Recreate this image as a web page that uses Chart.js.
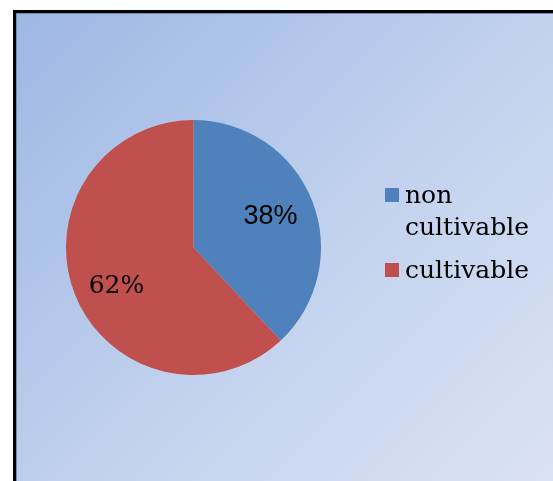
<!DOCTYPE html>
<html lang="en">
<head>
  <meta charset="UTF-8" />
  <title>Cultivable land</title>
  <script src="https://cdn.jsdelivr.net/npm/chart.js@4.4.1/dist/chart.umd.min.js"></script>
  <style>
    body {
      margin: 0;
      background: #fff;
      overflow: hidden;
    }

    .frame {
      position: absolute;
      left: 13px;
      top: 10px;
      width: 600px;
      height: 520px;
      border: 3px solid #000;
      background: linear-gradient(135deg, #9db7e4 0%, #c3d2ee 50%, #e0e7f6 100%);
    }

    .frame canvas {
      position: absolute;
      left: 0;
      top: 0;
      box-shadow: inset 1px 1px 0 #7a8aa8;
    }
  </style>
</head>
<body>
  <div class="frame">
    <canvas id="pie" width="537" height="468"></canvas>
  </div>
  <script>
    const categories = ['non cultivable', 'cultivable'];
    const shares = [38, 62];
    const sliceColors = ['#4f81bd', '#c0504d'];

    // percentage text inside each slice
    const sliceLabels = {
      id: 'sliceLabels',
      afterDatasetsDraw(chart, args, opts) {
        const ctx = chart.ctx;
        const meta = chart.getDatasetMeta(0);
        const total = shares.reduce((a, b) => a + b, 0);
        meta.data.forEach((arc, i) => {
          const mid = (arc.startAngle + arc.endAngle) / 2;
          const r = arc.outerRadius * opts.offset;
          const x = arc.x + Math.cos(mid) * r;
          const y = arc.y + Math.sin(mid) * r + opts.shiftY[i];
          ctx.save();
          ctx.font = opts.fonts[i];
          ctx.fillStyle = '#000';
          ctx.textAlign = 'center';
          ctx.textBaseline = 'middle';
          ctx.fillText(Math.round(shares[i] / total * 100) + '%', x, y);
          ctx.restore();
        });
      }
    };

    // legend on the right, with wrapped labels
    const sideLegend = {
      id: 'sideLegend',
      afterDraw(chart, args, opts) {
        const ctx = chart.ctx;
        ctx.save();
        ctx.font = opts.font;
        ctx.textBaseline = 'alphabetic';
        let y = opts.top;
        categories.forEach((name, i) => {
          // wrap words to fit
          const words = name.split(' ');
          const lines = [];
          let cur = '';
          words.forEach(w => {
            const t = cur ? cur + ' ' + w : w;
            if (cur && ctx.measureText(t).width > opts.maxWidth) {
              lines.push(cur);
              cur = w;
            } else {
              cur = t;
            }
          });
          lines.push(cur);

          ctx.fillStyle = sliceColors[i];
          ctx.fillRect(opts.left, y - opts.box - 1, opts.box, opts.box);
          ctx.fillStyle = '#000';
          lines.forEach((ln, k) => {
            ctx.fillText(ln, opts.left + opts.box + 6, y + k * opts.lineHeight);
          });
          y += lines.length * opts.lineHeight + opts.gap;
        });
        ctx.restore();
      }
    };

    new Chart(document.getElementById('pie'), {
      type: 'pie',
      data: {
        labels: categories,
        datasets: [{
          data: shares,
          backgroundColor: sliceColors,
          borderWidth: 0
        }]
      },
      options: {
        responsive: false,
        animation: false,
        events: [],
        layout: {
          padding: { left: 50, top: 107, right: 232, bottom: 106 }
        },
        plugins: {
          legend: { display: false },
          tooltip: { enabled: false },
          sliceLabels: {
            offset: 0.65,
            shiftY: [0, 8],
            fonts: ['27px "Liberation Sans", Arial, sans-serif', '25px "DejaVu Serif", serif']
          },
          sideLegend: {
            left: 369,
            top: 190,
            box: 14,
            lineHeight: 32,
            gap: 11,
            maxWidth: 135,
            font: '25px "DejaVu Serif", serif'
          }
        }
      },
      plugins: [sliceLabels, sideLegend]
    });
  </script>
</body>
</html>
